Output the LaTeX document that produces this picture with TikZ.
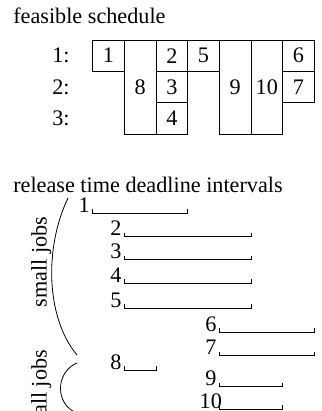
\documentclass[tikz,border=0pt]{standalone}
\usepackage{fontspec}
\setmainfont{Liberation Serif}
\begin{document}
\begin{tikzpicture}[x=1pt,y=-1pt,
  txt/.style={font=\fontsize{22.2pt}{26pt}\selectfont, inner sep=0pt, outer sep=0pt},
  cell/.style={draw, line width=0.85pt, minimum width=31.66pt, minimum height=31.33pt,
               inner sep=0pt, outer sep=0pt, font=\fontsize{22.2pt}{26pt}\selectfont},
  tallcell/.style={cell, minimum height=93.99pt},
  ivl/.style={line width=0.8pt},
  bracecurve/.style={line width=0.8pt}]
\useasboundingbox (0,0) rectangle (321,411);
\clip (0,0) rectangle (321,411);

% titles
\node[txt, anchor=base west] (t1) at (13.3,24) {feasible schedule};
\node[txt, anchor=base west] (t2) at (13.3,193) {release time deadline intervals};

% machine labels
\node[txt, anchor=base] (m1) at (61,63) {1:};
\node[txt, anchor=base] (m2) at (61,94.3) {2:};
\node[txt, anchor=base] (m3) at (61,125.6) {3:};

% schedule cells
\node[cell] (c1) at (108.53,55.665) {1};
\node[tallcell] (c8) at (140.19,86.995) {8};
\node[cell] (c2) at (171.85,55.665) {2};
\node[cell] (c3) at (171.85,86.995) {3};
\node[cell] (c4) at (171.85,118.325) {4};
\node[cell] (c5) at (203.51,55.665) {5};
\node[tallcell] (c9) at (235.17,86.995) {9};
\node[tallcell] (c10) at (266.83,86.995) {10};
\node[cell] (c6) at (298.49,55.665) {6};
\node[cell] (c7) at (298.49,86.995) {7};

% intervals
\foreach \n/\y/\l/\r in {1/213/92.7/187.7, 2/236.7/124.4/251, 3/259.5/124.4/251,
    4/283.3/124.4/251, 5/308.3/124.4/251, 6/332/219.3/314.3, 7/355.5/219.3/314.3,
    8/370/124.4/156, 9/386.7/219.3/282.7, 10/409.3/219.3/282.7} {
  \coordinate (s\n) at (\l,\y);
  \coordinate (e\n) at (\r,\y);
  \node[txt, anchor=base] (l\n) at (\l-8.5,\y-1) {\n};
  \draw[ivl] ([yshift=4pt]s\n) -- (s\n) -- (e\n) -- ([yshift=4pt]e\n);
}

% groups
\coordinate (b1t) at (68,198);
\coordinate (b1b) at (77,355);
\draw[bracecurve] (b1t) .. controls (44,248) and (46,318) .. (b1b);
\coordinate (b2t) at (77,363);
\coordinate (b2b) at (77,413);
\draw[bracecurve] (b2t) .. controls (55,372) and (55,405) .. (b2b);
\node[txt, rotate=90, anchor=base] (sj) at (46.5,262) {small jobs};
\node[txt, rotate=90, anchor=base] (tj) at (46.5,385.5) {tall jobs};
\end{tikzpicture}
\end{document}
